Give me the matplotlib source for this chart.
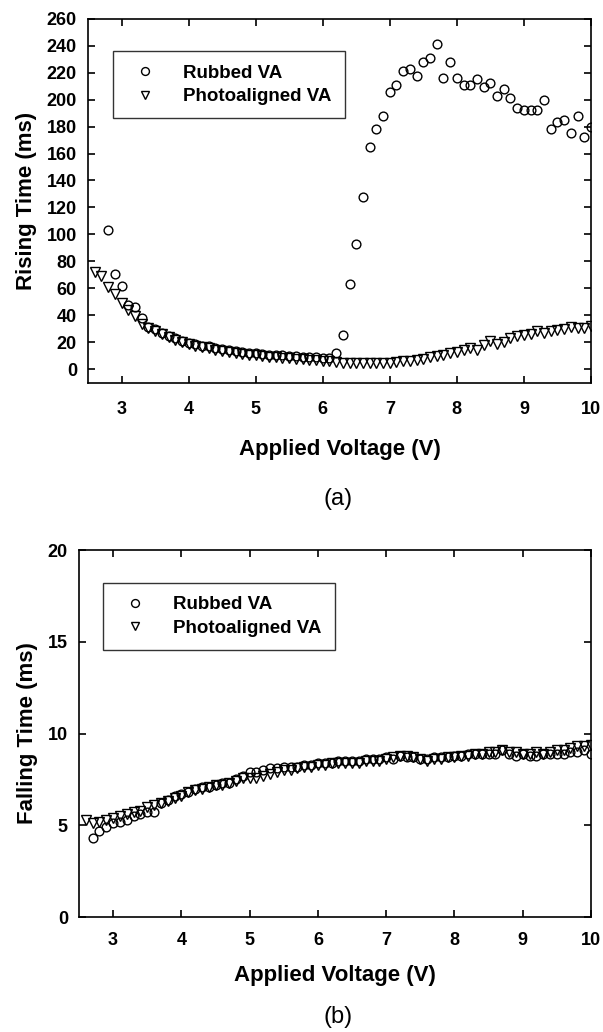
import matplotlib
matplotlib.use("Agg")
import matplotlib.pyplot as plt
import numpy as np

plt.rcParams['font.family'] = ['Liberation Sans', 'DejaVu Sans']

# voltage sweeps (0.1 V steps)
v_rub_rise = np.round(np.arange(2.8, 10.01, 0.1), 1)
v_photo_rise = np.round(np.arange(2.6, 10.01, 0.1), 1)
v_rub_fall = np.round(np.arange(2.7, 10.01, 0.1), 1)
v_photo_fall = np.round(np.arange(2.6, 10.01, 0.1), 1)

# rising time (ms)
rub_rise = [103, 71, 62, 47.5, 46, 38, 31.5, 30, 27, 25, 23, 21, 19.5, 18.5, 17.5, 17,
            16, 15, 14, 13.5, 13, 12.5, 12, 11.5, 11, 11, 10.5, 10, 10, 9.5, 9, 9, 8.5, 8.5,
            12.5, 25.5, 63.5, 93, 128, 165, 178.5, 188, 205.5, 210.5, 221, 222.5, 217.5,
            228, 231, 241, 216, 227.5, 216, 211, 211, 215, 209, 212, 202.5, 207.5, 201,
            194, 192.5, 192.5, 192.5, 200, 178.5, 183, 184.5, 175, 188, 172, 180]
photo_rise = [72, 69, 61, 56, 49.5, 44, 39.5, 34, 31, 28.5, 26, 24, 22, 20.5, 19, 17.5,
              16.5, 15.5, 14.5, 13.5, 13, 12, 11.5, 11, 10.5, 10, 9.5, 9, 8.5, 8.5, 8, 7.5,
              7, 7, 6.5, 6, 5.5, 5, 5, 4.5, 4.5, 4.5, 4.5, 4.5, 5, 5.5, 6, 6.5, 7, 8, 9, 10,
              10.5, 12, 13, 14.5, 15.5, 14, 18, 21, 19, 20.5, 23, 24.5, 25.5, 26, 28.5, 27,
              28.5, 29, 30, 31.5, 31, 31, 32.5]

# falling time (ms)
rub_fall = [4.3, 4.7, 4.9, 5.1, 5.2, 5.3, 5.5, 5.6, 5.7, 5.7,
            6.2, 6.4, 6.6, 6.7, 6.8, 7.0, 7.1, 7.1, 7.2, 7.3,
            7.3, 7.5, 7.7, 7.9, 7.9, 8.0, 8.1, 8.1, 8.2, 8.2,
            8.2, 8.3, 8.3, 8.4, 8.4, 8.4, 8.5, 8.5, 8.5, 8.5,
            8.6, 8.6, 8.6, 8.7, 8.6, 8.8, 8.7, 8.7, 8.6, 8.6,
            8.7, 8.7, 8.7, 8.8, 8.8, 8.9, 8.9, 8.9, 8.9, 8.9,
            9.1, 8.9, 8.8, 8.9, 8.8, 8.8, 8.9, 8.9, 8.9, 8.9,
            9.0, 9.0, 9.1, 8.9]
photo_fall = [5.3, 5.1, 5.2, 5.3, 5.4, 5.5, 5.6, 5.7, 5.8, 6.0,
              6.1, 6.2, 6.3, 6.5, 6.6, 6.8, 6.9, 7.0, 7.1, 7.2,
              7.2, 7.3, 7.4, 7.6, 7.6, 7.6, 7.7, 7.8, 7.9, 8.0,
              8.0, 8.1, 8.2, 8.2, 8.3, 8.3, 8.4, 8.4, 8.4, 8.4,
              8.4, 8.5, 8.5, 8.5, 8.6, 8.7, 8.8, 8.8, 8.7, 8.6,
              8.5, 8.6, 8.6, 8.7, 8.7, 8.8, 8.8, 8.9, 8.9, 9.0,
              9.0, 9.1, 9.0, 9.0, 8.9, 8.9, 9.0, 8.9, 9.0, 9.1,
              9.1, 9.2, 9.3, 9.3, 9.4]

labels = ["Rubbed VA", "Photoaligned VA"]


def style_axes(ax, yticks, ylim, ylabel, xpad, xlabpad):
    ax.set_xlim(2.5, 10)
    ax.set_ylim(*ylim)
    ax.set_xticks(range(3, 11))
    ax.set_yticks(yticks)
    ax.tick_params(direction='in', top=True, right=True, length=5, width=1.2,
                   labelsize=13, pad=8)
    ax.tick_params(axis='x', pad=xpad)
    for lab in ax.get_xticklabels() + ax.get_yticklabels():
        lab.set_fontweight('bold')
    for sp in ax.spines.values():
        sp.set_linewidth(1.2)
    ax.set_xlabel("Applied Voltage (V)", fontsize=16, fontweight='bold', labelpad=xlabpad)
    ax.set_ylabel(ylabel, fontsize=16, fontweight='bold', labelpad=7)


def plot_pair(ax, x1, y1, x2, y2, anchor):
    ax.plot(x1, y1, 'o', ms=6.3, mfc='none', mec='black', mew=1.0, label=labels[0])
    ax.plot(x2, y2, 'v', ms=7, mfc='none', mec='black', mew=1.0, label=labels[1])
    leg = ax.legend(loc='upper left', bbox_to_anchor=anchor, frameon=True, fancybox=False,
                    borderpad=0.7, handletextpad=1.05, labelspacing=0.35, borderaxespad=0,
                    prop={'weight': 'bold', 'size': 13.5}, markerscale=0.9)
    leg.get_frame().set_edgecolor('black')
    leg.get_frame().set_linewidth(1.0)


fig = plt.figure(figsize=(6.03, 10.32), dpi=100)

ax1 = fig.add_axes([0.146, 0.629, 0.834, 0.353])
plot_pair(ax1, v_rub_rise, rub_rise, v_photo_rise, photo_rise, (0.05, 0.91))
style_axes(ax1, range(0, 261, 20), (-10, 260), "Rising Time (ms)", 13, 15)
fig.text(0.56, 0.5165, "(a)", ha='center', va='center', fontsize=17)

ax2 = fig.add_axes([0.131, 0.1114, 0.849, 0.3556])
plot_pair(ax2, v_rub_fall, rub_fall, v_photo_fall, photo_fall, (0.047, 0.91))
style_axes(ax2, range(0, 21, 5), (0, 20), "Falling Time (ms)", 11, 11)
fig.text(0.56, 0.0145, "(b)", ha='center', va='center', fontsize=17)

fig.savefig("out.png", dpi=100, facecolor='white')
